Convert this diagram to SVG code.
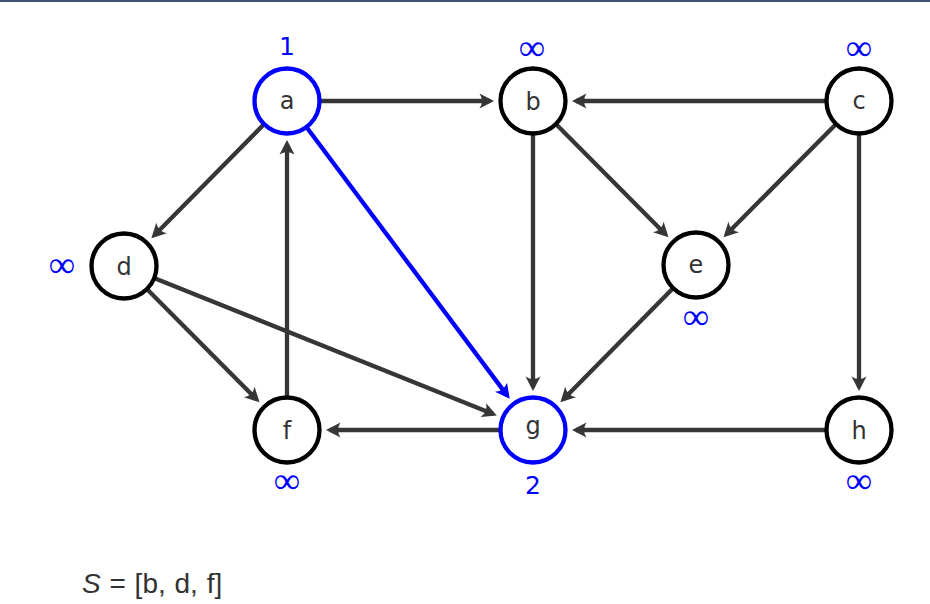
<svg xmlns="http://www.w3.org/2000/svg" width="930" height="604" viewBox="0 0 930 604">
<style>
.e{stroke:#363636;stroke-width:4.3;fill:none;marker-end:url(#ah)}
.eb{stroke:#0000ff;stroke-width:4.3;fill:none;marker-end:url(#ahb)}
.n{fill:#fff;stroke:#000;stroke-width:4.3}
.nb{fill:#fff;stroke:#0000ff;stroke-width:4.3}
.t{font-family:"DejaVu Sans","Liberation Sans",sans-serif;font-size:24px;fill:#333;text-anchor:middle}
.v{font-family:"DejaVu Sans","Liberation Sans",sans-serif;font-size:25px;fill:#0000ff;text-anchor:middle}
.inf{font-family:"Liberation Serif","DejaVu Serif",serif;font-size:37px;fill:#0000ff;text-anchor:middle}
.s{font-family:"Liberation Sans","DejaVu Sans",sans-serif;font-size:28px;fill:#333}
</style>
<defs>
<marker id="ah" markerUnits="userSpaceOnUse" orient="auto" markerWidth="30" markerHeight="30" refX="0" refY="0" viewBox="-15 -15 30 30" overflow="visible">
<path d="M4,0 L-10.5,-7.5 Q-5.5,0 -10.5,7.5 Z" fill="#363636"/>
</marker>
<marker id="ahb" markerUnits="userSpaceOnUse" orient="auto" markerWidth="30" markerHeight="30" refX="0" refY="0" viewBox="-15 -15 30 30" overflow="visible">
<path d="M4,0 L-10.5,-7.5 Q-5.5,0 -10.5,7.5 Z" fill="#0000ff"/>
</marker>
</defs>
<rect x="0" y="0" width="930" height="604" fill="#fff"/>
<rect x="0" y="0" width="930" height="2" fill="#3b5572"/>
<g id="connectors">
<line class="e" x1="287" y1="101" x2="490" y2="101"/>
<line class="e" x1="859" y1="101" x2="576" y2="101"/>
<line class="e" x1="287" y1="101" x2="154.2" y2="235.4"/>
<line class="e" x1="287" y1="430" x2="287" y2="144"/>
<line class="e" x1="533" y1="101" x2="533" y2="387"/>
<line class="e" x1="533" y1="101" x2="665.7" y2="234.5"/>
<line class="e" x1="859" y1="101" x2="726.3" y2="234.5"/>
<line class="e" x1="859" y1="101" x2="859" y2="387"/>
<line class="e" x1="124" y1="266" x2="256.7" y2="399.5"/>
<line class="e" x1="124" y1="266" x2="493.1" y2="414"/>
<line class="e" x1="696" y1="265" x2="563.2" y2="399.4"/>
<line class="e" x1="533" y1="430" x2="330" y2="430"/>
<line class="e" x1="859" y1="430" x2="576" y2="430"/>
<line class="eb" x1="287" y1="101" x2="507.3" y2="395.6"/>
</g>
<g id="node-a"><circle class="nb" cx="287" cy="101" r="32.5"/><text class="t" x="287" y="109">a</text></g>
<g id="node-b"><circle class="n" cx="533" cy="101" r="32.5"/><text class="t" x="533" y="110">b</text></g>
<g id="node-c"><circle class="n" cx="859" cy="101" r="32.5"/><text class="t" x="859" y="109">c</text></g>
<g id="node-d"><circle class="n" cx="124" cy="266" r="32.5"/><text class="t" x="124" y="275">d</text></g>
<g id="node-e"><circle class="n" cx="696" cy="265" r="32.5"/><text class="t" x="696" y="273">e</text></g>
<g id="node-f"><circle class="n" cx="287" cy="430" r="32.5"/><text class="t" x="287" y="439">f</text></g>
<g id="node-g"><circle class="nb" cx="533" cy="430" r="32.5"/><text class="t" x="533" y="434">g</text></g>
<g id="node-h"><circle class="n" cx="859" cy="430" r="32.5"/><text class="t" x="859" y="439">h</text></g>
<g id="labels">
<text class="v" x="287" y="55">1</text>
<text class="v" x="533" y="494">2</text>
<text class="inf" x="532" y="60">∞</text>
<text class="inf" x="859" y="60">∞</text>
<text class="inf" x="62" y="277">∞</text>
<text class="inf" x="696" y="329">∞</text>
<text class="inf" x="287" y="493">∞</text>
<text class="inf" x="859" y="493">∞</text>
<text class="s" x="82" y="593" word-spacing="1"><tspan font-style="italic">S</tspan> = [b, d, f]</text>
</g>
</svg>
